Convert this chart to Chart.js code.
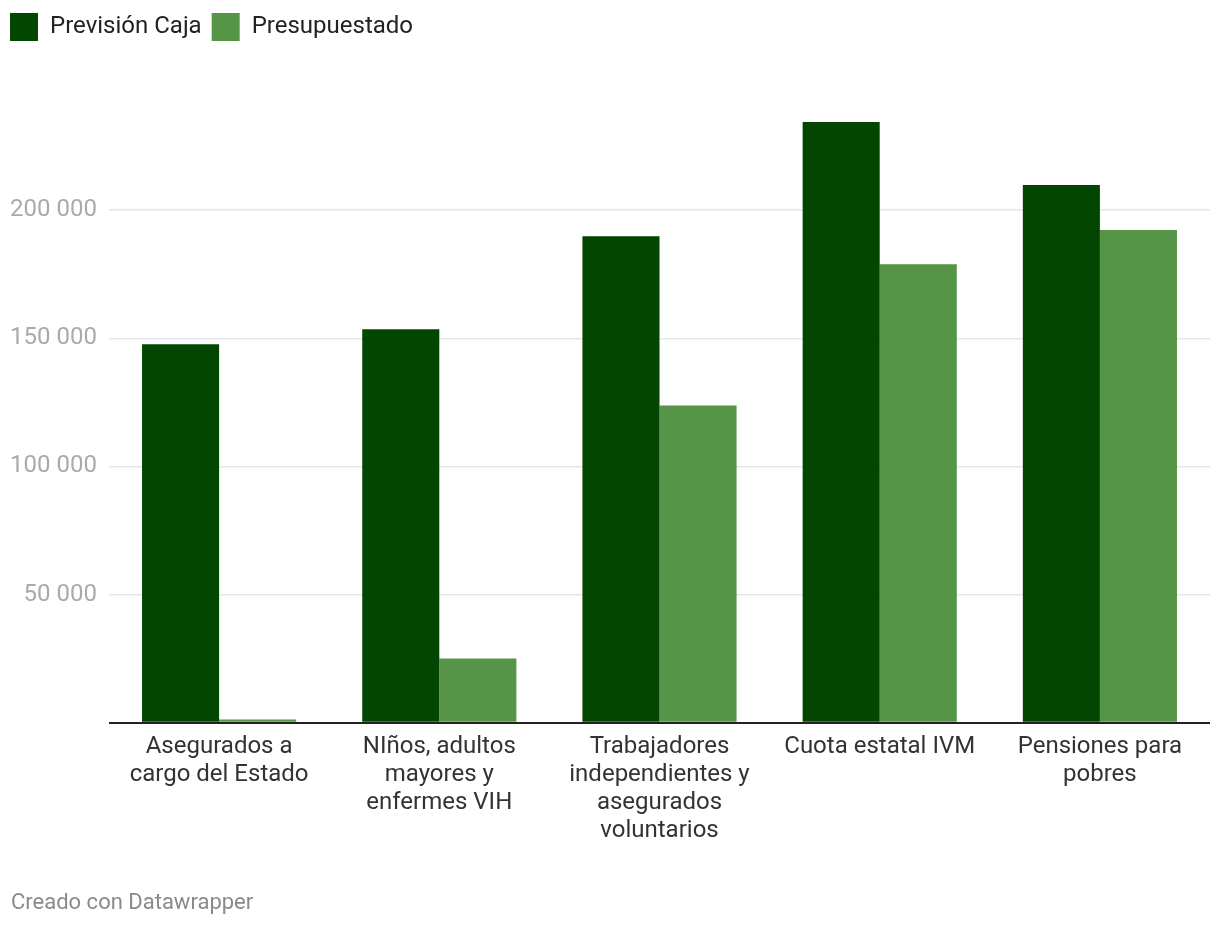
<!DOCTYPE html>
<html>
<head>
<meta charset="utf-8">
<script src="https://cdn.jsdelivr.net/npm/chart.js@4"></script>
<style>
  html, body { margin: 0; padding: 0; background: #fff; }
  #wrap { position: absolute; left: 0; top: 0; width: 1220px; height: 928px; }
  #footer {
    position: absolute; left: 11px; top: 889px;
    font-family: Roboto, sans-serif; font-size: 22px; color: #8a8a8a;
  }
</style>
</head>
<body>
<div id="wrap"><canvas id="chart"></canvas></div>
<div id="footer">Creado con Datawrapper</div>
<script>
const categories = [
    ['Asegurados a', 'cargo del Estado'],
    ['NIños, adultos', 'mayores y', 'enfermes VIH'],
    ['Trabajadores', 'independientes y', 'asegurados', 'voluntarios'],
    'Cuota estatal IVM',
    ['Pensiones para', 'pobres']
];
const seriesNames = ['Previsión Caja', 'Presupuestado'];
const previsionCaja = [147700, 153500, 189800, 234400, 209800];
const presupuestado = [1200, 25000, 123800, 178900, 192200];
const yTicks = [0, 50000, 100000, 150000, 200000];

const DarkGreen = '#024602';
const LightGreen = '#569447';

function formatThousands(v) {
    return String(v).replace(/\B(?=(\d{3})+(?!\d))/g, ' ');
}

// extra room under the legend
const legendSpacer = {
    id: 'legendSpacer',
    beforeInit(chart) {
        const origFit = chart.legend.fit;
        chart.legend.fit = function() {
            origFit.bind(chart.legend)();
            this.height += 56.6;
        };
    }
};

new Chart(document.getElementById('chart'), {
    type: 'bar',
    data: {
        labels: categories,
        datasets: [{
            label: seriesNames[0],
            data: previsionCaja,
            backgroundColor: DarkGreen,
            borderWidth: 0
        }, {
            label: seriesNames[1],
            data: presupuestado,
            backgroundColor: LightGreen,
            borderWidth: 0
        }]
    },
    options: {
        responsive: true,
        maintainAspectRatio: false,
        animation: false,
        categoryPercentage: 0.7,
        barPercentage: 1.0,
        layout: {
            padding: { left: 0, right: 10, top: 3, bottom: 73 }
        },
        scales: {
            x: {
                grid: { display: false, drawTicks: false },
                border: { display: false },
                ticks: {
                    color: '#333',
                    autoSkip: false,
                    maxRotation: 0,
                    padding: 10,
                    font: { family: 'Roboto', size: 24, lineHeight: 1.17 }
                }
            },
            y: {
                min: 0,
                max: 240000,
                afterBuildTicks(scale) {
                    scale.ticks = yTicks.map(v => ({ value: v }));
                },
                afterFit(scale) {
                    scale.width = 109;
                },
                grid: {
                    drawTicks: false,
                    color: ctx => ctx.tick && ctx.tick.value === 0 ? '#222' : '#e6e6e6',
                    lineWidth: ctx => ctx.tick && ctx.tick.value === 0 ? 2 : 1.5
                },
                border: { display: false },
                ticks: {
                    color: '#aaa',
                    padding: 12,
                    font: { family: 'Roboto', size: 24 },
                    callback: value => value === 0 ? '' : formatThousands(value)
                }
            }
        },
        plugins: {
            tooltip: { enabled: false },
            legend: {
                position: 'top',
                align: 'start',
                labels: {
                    boxWidth: 28,
                    boxHeight: 28,
                    padding: 10,
                    color: '#222',
                    font: { family: 'Roboto', size: 24 }
                }
            }
        }
    },
    plugins: [legendSpacer]
});
</script>
</body>
</html>
